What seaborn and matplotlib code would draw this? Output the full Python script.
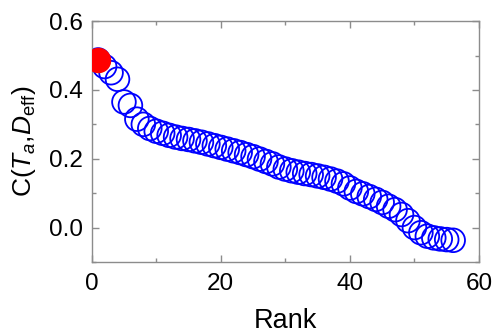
import numpy as np
import pandas as pd
import matplotlib
matplotlib.use("Agg")
import matplotlib.pyplot as plt
import seaborn as sns
from matplotlib.ticker import MultipleLocator

rank = list(range(1, 57))
corr = [0.487, 0.468, 0.450, 0.431, 0.365, 0.355, 0.315, 0.300, 0.288, 0.280,
        0.274, 0.268, 0.263, 0.259, 0.256, 0.252, 0.248, 0.243, 0.238, 0.233,
        0.228, 0.223, 0.218, 0.212, 0.206, 0.199, 0.192, 0.185, 0.176, 0.170,
        0.165, 0.161, 0.157, 0.154, 0.150, 0.146, 0.141, 0.135, 0.127, 0.115,
        0.105, 0.098, 0.090, 0.082, 0.073, 0.062, 0.052, 0.038, 0.020, 0.000,
        -0.015, -0.025, -0.030, -0.033, -0.035, -0.037]
highlight_rank = [1]
highlight_corr = [0.487]

sns.set_style("white")
plt.rcParams['font.family'] = ['Liberation Sans', 'DejaVu Sans']
plt.rcParams['mathtext.fontset'] = 'custom'
plt.rcParams['mathtext.rm'] = 'Liberation Sans'
plt.rcParams['mathtext.it'] = 'Liberation Sans:italic'
plt.rcParams['text.color'] = 'black'
plt.rcParams['axes.labelcolor'] = 'black'
plt.rcParams['xtick.color'] = 'black'
plt.rcParams['ytick.color'] = 'black'

df = pd.DataFrame({"Rank": rank, "C": corr})
hl = pd.DataFrame({"Rank": highlight_rank, "C": highlight_corr})

fig = plt.figure(figsize=(4.94, 3.35), dpi=100)
ax = fig.add_axes([0.1856, 0.218, 0.7840, 0.719])

sns.scatterplot(data=df, x="Rank", y="C", ax=ax, s=290, facecolors='none',
                edgecolor='#0000ff', linewidth=1.3, legend=False, zorder=2)
sns.scatterplot(data=hl, x="Rank", y="C", ax=ax, s=290, color='#ff0000',
                edgecolor='#ff0000', linewidth=1.3, legend=False, zorder=3)

ax.set_xlim(0, 60)
ax.set_ylim(-0.1, 0.6)
ax.xaxis.set_major_locator(MultipleLocator(20))
ax.xaxis.set_minor_locator(MultipleLocator(10))
ax.yaxis.set_major_locator(MultipleLocator(0.2))
ax.yaxis.set_minor_locator(MultipleLocator(0.1))
ax.yaxis.set_major_formatter(matplotlib.ticker.FormatStrFormatter('%.1f'))

for s in ax.spines.values():
    s.set_color('#8c8c8c')
    s.set_linewidth(1.0)
ax.tick_params(which='both', direction='in', color='#8c8c8c', width=1.0,
               labelsize=17.5, labelcolor='black',
               bottom=True, top=True, left=True, right=True)
ax.tick_params(axis='x', which='both', pad=8)
ax.tick_params(axis='y', which='both', pad=6)
ax.tick_params(which='major', length=5)
ax.tick_params(which='minor', length=3)

ax.set_xlabel("Rank", fontsize=19.5, labelpad=9, color='black')
ax.set_ylabel(r"C($T_a$,$D_{\rm eff}$)", fontsize=19, labelpad=8, color='black')

fig.savefig("out.png", dpi=100)
